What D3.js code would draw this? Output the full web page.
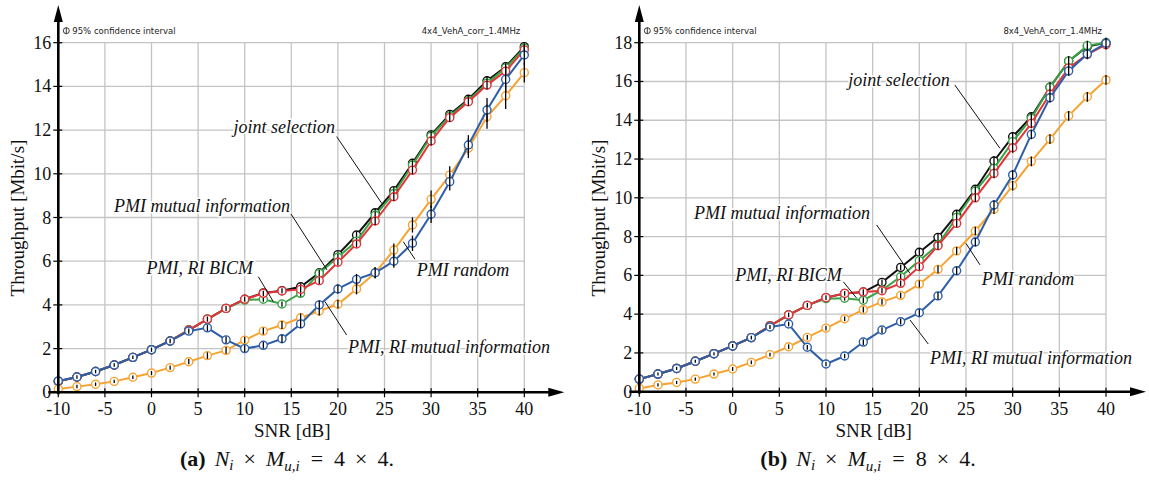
<!DOCTYPE html>
<html lang="en">
<head>
  <meta charset="UTF-8">
  <script src="https://d3js.org/d3.v7.min.js"></script>
  <style>
    html, body { margin: 0; padding: 0; background: #fff; }
    svg { display: block; }
    .tick-label { font-family: "Liberation Serif", "Times New Roman", serif; font-size: 18px; fill: #111; }
    .axis-title { font-family: "Liberation Serif", "Times New Roman", serif; font-size: 19px; fill: #111; }
    .note { font-family: "DejaVu Sans", sans-serif; font-size: 8.5px; fill: #222; }
    .anno { font-family: "Liberation Serif", "Times New Roman", serif; font-style: italic; font-size: 18px; fill: #111;
            paint-order: stroke; stroke: #fff; stroke-width: 3px; }
    .caption { font-family: "Liberation Serif", "Times New Roman", serif; font-size: 22px; fill: #111; }
  </style>
</head>
<body>
<svg id="chart" width="1149" height="480"></svg>
<script>
  // SNR points (dB)
  const snr = [-10, -8, -6, -4, -2, 0, 2, 4, 6, 8, 10, 12, 14, 16, 18, 20, 22, 24, 26, 28, 30, 32, 34, 36, 38, 40];
  const xTicks = [-10, -5, 0, 5, 10, 15, 20, 25, 30, 35, 40];
  const yTicksA = [0, 2, 4, 6, 8, 10, 12, 14, 16];
  const yTicksB = [0, 2, 4, 6, 8, 10, 12, 14, 16, 18];

  // (a) 4x4
  const jointA = [0.5, 0.7, 0.95, 1.25, 1.6, 1.95, 2.35, 2.85, 3.35, 3.84, 4.26, 4.55, 4.65, 4.83, 5.47, 6.3, 7.2, 8.22, 9.23, 10.48, 11.78, 12.72, 13.41, 14.26, 14.9, 15.82];
  const bicmA = [0.5, 0.7, 0.95, 1.25, 1.6, 1.95, 2.35, 2.85, 3.35, 3.84, 4.22, 4.26, 4.04, 4.53, 5.45, 6.18, 6.92, 8.1, 9.1, 10.4, 11.72, 12.65, 13.35, 14.15, 14.85, 15.75];
  const mutualA = [0.5, 0.7, 0.95, 1.25, 1.6, 1.95, 2.35, 2.85, 3.35, 3.84, 4.26, 4.53, 4.64, 4.71, 5.11, 5.95, 6.79, 7.84, 8.95, 10.17, 11.5, 12.57, 13.3, 14.06, 14.7, 15.67];
  const riMutualA = [0.52, 0.7, 0.95, 1.25, 1.6, 1.95, 2.35, 2.8, 2.95, 2.4, 2.0, 2.15, 2.45, 3.13, 4.0, 4.73, 5.17, 5.47, 6.0, 6.82, 8.15, 9.64, 11.32, 12.92, 14.32, 15.44];
  const randomA = [0.15, 0.26, 0.37, 0.5, 0.69, 0.88, 1.13, 1.4, 1.68, 1.92, 2.39, 2.8, 3.08, 3.41, 3.72, 4.03, 4.73, 5.47, 6.51, 7.66, 8.83, 9.94, 11.17, 12.61, 13.57, 14.63];
  // confidence half-widths (Mbit/s)
  const ciA = [0.08, 0.08, 0.08, 0.08, 0.08, 0.1, 0.1, 0.12, 0.15, 0.15, 0.15, 0.15, 0.18, 0.2, 0.2, 0.2, 0.25, 0.25, 0.3, 0.35, 0.4, 0.4, 0.45, 0.55, 0.6, 0.45];
  const ciSmallA = [0.08, 0.08, 0.08, 0.08, 0.08, 0.1, 0.1, 0.1, 0.12, 0.12, 0.12, 0.12, 0.12, 0.15, 0.15, 0.15, 0.15, 0.18, 0.18, 0.2, 0.2, 0.2, 0.2, 0.2, 0.2, 0.2];

  // (b) 8x4
  const jointB = [0.65, 0.91, 1.2, 1.57, 1.96, 2.36, 2.79, 3.4, 3.96, 4.45, 4.85, 5.07, 5.14, 5.64, 6.41, 7.19, 7.96, 9.15, 10.44, 11.9, 13.15, 14.18, 15.7, 17.05, 17.8, 18.0];
  const bicmB = [0.65, 0.91, 1.2, 1.57, 1.96, 2.36, 2.79, 3.4, 3.96, 4.45, 4.8, 4.82, 4.72, 5.24, 5.93, 6.76, 7.57, 9.0, 10.35, 11.52, 12.9, 14.1, 15.7, 17.05, 17.85, 18.0];
  const mutualB = [0.65, 0.91, 1.2, 1.57, 1.96, 2.36, 2.79, 3.4, 3.96, 4.45, 4.85, 5.07, 5.14, 5.21, 5.59, 6.45, 7.53, 8.68, 10.0, 11.26, 12.58, 13.84, 15.35, 16.7, 17.4, 17.9];
  const riMutualB = [0.65, 0.91, 1.2, 1.57, 1.96, 2.36, 2.79, 3.34, 3.49, 2.29, 1.43, 1.84, 2.56, 3.18, 3.61, 4.07, 4.94, 6.24, 7.72, 9.63, 11.18, 13.27, 15.16, 16.54, 17.42, 17.97];
  const randomB = [0.17, 0.35, 0.48, 0.65, 0.91, 1.17, 1.51, 1.91, 2.32, 2.8, 3.28, 3.76, 4.23, 4.63, 4.97, 5.55, 6.31, 7.26, 8.29, 9.41, 10.63, 11.88, 13.03, 14.23, 15.21, 16.08];
  const ciB = [0.08, 0.08, 0.08, 0.08, 0.08, 0.1, 0.1, 0.1, 0.12, 0.12, 0.12, 0.12, 0.15, 0.15, 0.15, 0.18, 0.2, 0.2, 0.22, 0.25, 0.25, 0.25, 0.25, 0.25, 0.25, 0.25];

  const colors = { joint: "#111111", bicm: "#3aa346", mutual: "#e3343a", riMutual: "#2d5ea8", random: "#f5a433" };

  // annotation labels: text position + leader line in data coords [snr, value]
  const annoA = [
    { text: "joint selection", at: [19.69, 11.87], anchor: "end", from: [19.87, 11.7], to: [24.7, 8.65] },
    { text: "PMI mutual information", at: [14.86, 8.25], anchor: "end", from: [14.97, 8.16], to: [18.83, 5.6] },
    { text: "PMI, RI BICM", at: [10.89, 5.41], anchor: "end", from: [11.46, 5.29], to: [13.07, 4.15] },
    { text: "PMI random", at: [28.46, 5.32], anchor: "start", from: [28.27, 6.09], to: [27.02, 6.89] },
    { text: "PMI, RI mutual information", at: [21.08, 1.8], anchor: "start", from: [20.94, 2.62], to: [18.61, 4.15] }
  ];
  const annoB = [
    { text: "joint selection", at: [23.26, 15.77], anchor: "end", from: [23.8, 15.82], to: [28.64, 12.55] },
    { text: "PMI mutual information", at: [14.72, 8.91], anchor: "end", from: [15.43, 8.6], to: [19.0, 6.1] },
    { text: "PMI, RI BICM", at: [11.68, 5.71], anchor: "end", from: [11.86, 5.67], to: [13.29, 4.82] },
    { text: "PMI random", at: [26.68, 5.5], anchor: "start", from: [26.5, 6.54], to: [25.0, 7.65] },
    { text: "PMI, RI mutual information", at: [21.14, 1.43], anchor: "start", from: [20.96, 2.46], to: [19.0, 3.7] }
  ];

  const svg = d3.select("#chart");

  function drawPanel(cfg) {
    const g = svg.append("g");
    const x = d3.scaleLinear().domain([-10, 40]).range([cfg.left, cfg.right]);
    const y = d3.scaleLinear().domain([0, cfg.ymax]).range([cfg.bottom, cfg.top]);

    // grid
    g.append("g").selectAll("line.vg").data(xTicks.slice(1)).join("line")
      .attr("x1", d => x(d)).attr("x2", d => x(d))
      .attr("y1", y(0)).attr("y2", y(cfg.ymax))
      .attr("stroke", "#c4c4c4").attr("stroke-width", 1.3);
    g.append("g").selectAll("line.hg").data(cfg.yTicks.slice(1)).join("line")
      .attr("x1", x(-10)).attr("x2", x(40))
      .attr("y1", d => y(d)).attr("y2", d => y(d))
      .attr("stroke", "#c4c4c4").attr("stroke-width", 1.3);

    // series
    const line = d3.line().x((d, i) => x(snr[i])).y(d => y(d));
    cfg.series.forEach(s => {
      g.append("path").datum(s.values)
        .attr("fill", "none").attr("stroke", s.color).attr("stroke-width", 2)
        .attr("d", line);
      const pts = g.append("g").selectAll("g").data(s.values).join("g");
      pts.append("circle")
        .attr("cx", (d, i) => x(snr[i])).attr("cy", d => y(d)).attr("r", 4)
        .attr("fill", "#fff").attr("stroke", s.color).attr("stroke-width", 1.4);
      pts.append("line")
        .attr("x1", (d, i) => x(snr[i])).attr("x2", (d, i) => x(snr[i]))
        .attr("y1", (d, i) => y(d - s.ci[i])).attr("y2", (d, i) => y(d + s.ci[i]))
        .attr("stroke", "#000").attr("stroke-width", 1.3);
    });

    // axes
    const ax = g.append("g");
    ax.append("line").attr("x1", x(-10) - 10).attr("x2", cfg.right + 26)
      .attr("y1", y(0)).attr("y2", y(0)).attr("stroke", "#000").attr("stroke-width", 2.6);
    ax.append("path")
      .attr("d", `M${cfg.right + 24},${y(0) - 4.5} L${cfg.right + 40},${y(0)} L${cfg.right + 24},${y(0) + 4.5} Z`)
      .attr("fill", "#000");
    ax.append("line").attr("x1", x(-10)).attr("x2", x(-10))
      .attr("y1", y(0) + 2).attr("y2", 20).attr("stroke", "#000").attr("stroke-width", 2.6);
    ax.append("path")
      .attr("d", `M${x(-10) - 4.5},${22} L${x(-10)},${5} L${x(-10) + 4.5},${22} Z`)
      .attr("fill", "#000");

    ax.selectAll("line.xt").data(xTicks).join("line")
      .attr("x1", d => x(d)).attr("x2", d => x(d))
      .attr("y1", y(0) - 4).attr("y2", y(0) + 5)
      .attr("stroke", "#000").attr("stroke-width", 1.2);
    ax.selectAll("line.yt").data(cfg.yTicks).join("line")
      .attr("x1", x(-10) - 5).attr("x2", x(-10) + 4)
      .attr("y1", d => y(d)).attr("y2", d => y(d))
      .attr("stroke", "#000").attr("stroke-width", 1.2);

    ax.selectAll("text.xl").data(xTicks).join("text")
      .attr("class", "tick-label").attr("text-anchor", "middle")
      .attr("x", d => x(d)).attr("y", y(0) + 23).text(d => d);
    ax.selectAll("text.yl").data(cfg.yTicks).join("text")
      .attr("class", "tick-label").attr("text-anchor", "end")
      .attr("x", x(-10) - 7).attr("y", d => y(d) + 6).text(d => d);

    g.append("text").attr("class", "axis-title").attr("text-anchor", "middle")
      .attr("x", (cfg.left + cfg.right) / 2 + 1).attr("y", y(0) + 45).text("SNR [dB]");
    g.append("text").attr("class", "axis-title").attr("text-anchor", "middle")
      .attr("transform", `translate(${cfg.left - 34},218) rotate(-90)`)
      .text("Throughput [Mbit/s]");

    // top notes
    const nx = x(-10) + 8, ny = y(cfg.ymax) - 9;
    g.append("circle").attr("cx", nx).attr("cy", ny - 3).attr("r", 3)
      .attr("fill", "none").attr("stroke", "#222").attr("stroke-width", 0.9);
    g.append("line").attr("x1", nx).attr("x2", nx).attr("y1", ny - 6).attr("y2", ny)
      .attr("stroke", "#222").attr("stroke-width", 0.9);
    g.append("text").attr("class", "note").attr("x", nx + 6).attr("y", ny).text("95% confidence interval");
    g.append("text").attr("class", "note").attr("text-anchor", "end")
      .attr("x", cfg.right - 4).attr("y", ny).text(cfg.tag);

    // annotations
    cfg.anno.forEach(a => {
      g.append("line")
        .attr("x1", x(a.from[0])).attr("y1", y(a.from[1]))
        .attr("x2", x(a.to[0])).attr("y2", y(a.to[1]))
        .attr("stroke", "#111").attr("stroke-width", 1);
      g.append("text").attr("class", "anno").attr("text-anchor", a.anchor)
        .attr("x", x(a.at[0])).attr("y", y(a.at[1])).text(a.text);
    });

    // caption
    const cap = g.append("text").attr("class", "caption").attr("text-anchor", "middle")
      .attr("x", cfg.capX).attr("y", 466);
    cap.append("tspan").attr("font-weight", "bold").text(cfg.capLabel);
    cap.append("tspan").attr("font-style", "italic").attr("dx", 9).text("N");
    cap.append("tspan").attr("font-style", "italic").attr("font-size", "15px").attr("dy", 4).text("i");
    cap.append("tspan").attr("dy", -4).attr("dx", 10).text("×");
    cap.append("tspan").attr("font-style", "italic").attr("dx", 10).text("M");
    cap.append("tspan").attr("font-style", "italic").attr("font-size", "15px").attr("dy", 5).text("u,i");
    cap.append("tspan").attr("dy", -5).attr("dx", 11).text("=");
    cap.append("tspan").attr("dx", 11).text(cfg.capSize[0]);
    cap.append("tspan").attr("dx", 10).text("×");
    cap.append("tspan").attr("dx", 10).text(cfg.capSize[1] + ".");
  }

  drawPanel({
    left: 58.3, right: 524.3, bottom: 392.3, top: 42.7, ymax: 16, yTicks: yTicksA,
    tag: "4x4_VehA_corr_1.4MHz", anno: annoA, capX: 287, capLabel: "(a)", capSize: ["4", "4"],
    series: [
      { values: jointA, color: colors.joint, ci: ciSmallA },
      { values: bicmA, color: colors.bicm, ci: ciSmallA },
      { values: mutualA, color: colors.mutual, ci: ciSmallA },
      { values: randomA, color: colors.random, ci: ciA },
      { values: riMutualA, color: colors.riMutual, ci: ciA }
    ]
  });

  drawPanel({
    left: 639.3, right: 1106, bottom: 391.7, top: 42.7, ymax: 18, yTicks: yTicksB,
    tag: "8x4_VehA_corr_1.4MHz", anno: annoB, capX: 868, capLabel: "(b)", capSize: ["8", "4"],
    series: [
      { values: jointB, color: colors.joint, ci: ciB },
      { values: bicmB, color: colors.bicm, ci: ciB },
      { values: mutualB, color: colors.mutual, ci: ciB },
      { values: randomB, color: colors.random, ci: ciB },
      { values: riMutualB, color: colors.riMutual, ci: ciB }
    ]
  });
</script>
</body>
</html>
